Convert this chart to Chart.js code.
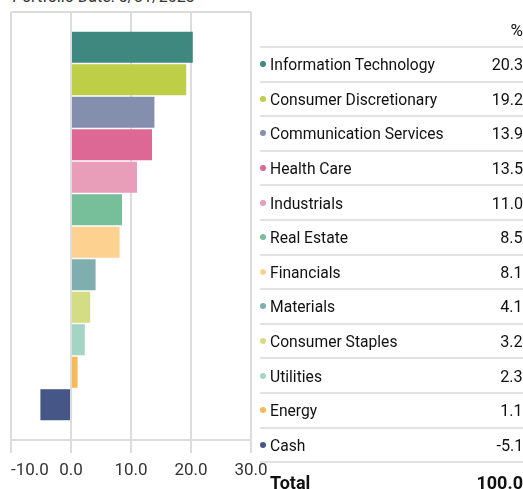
<!DOCTYPE html>
<html>
<head>
<meta charset="utf-8">
<script src="https://cdn.jsdelivr.net/npm/chart.js@4.4.0/dist/chart.umd.min.js"></script>
<style>
  html, body { margin: 0; padding: 0; background: #fff; }
  body { width: 523px; height: 489px; position: relative; overflow: hidden; font-family: Roboto, "Liberation Sans", sans-serif; color: #111; }
  #title { position: absolute; left: 12px; top: -11px; font-size: 16px; line-height: 16px; color: #333; white-space: nowrap; }
  #wrap { position: absolute; left: 0; top: 0; width: 523px; height: 489px; }
  #legend { position: absolute; left: 260px; top: 0; width: 263px; font-size: 17px; }
  .hdr { height: 46px; border-bottom: 2px solid #e2e2e2; box-sizing: content-box; display: flex; align-items: flex-end; justify-content: flex-end; }
  .hdr span { padding-bottom: 6px; }
  .row { height: 32.6px; border-bottom: 2px solid #e2e2e2; display: flex; align-items: center; }
  .row .dot { width: 6px; height: 6px; border-radius: 50%; margin: 0 4px 0 0; flex: none; }
  .row .name { flex: 1; white-space: nowrap; display: inline-block; transform: scaleX(0.92); transform-origin: left center; }
  .row .val { text-align: right; display: inline-block; transform: scaleX(0.95); transform-origin: right center; }
  .total { height: 38px; display: flex; align-items: center; font-weight: bold; font-size: 18px; }
  .total .name { flex: 1; padding-left: 10px; }
</style>
</head>
<body>
<div id="title">Portfolio Date: 5/31/2023</div>
<div id="wrap"><canvas id="c" width="523" height="489"></canvas></div>
<div id="legend"></div>
<script>
const categories = ["Information Technology", "Consumer Discretionary", "Communication Services", "Health Care", "Industrials", "Real Estate", "Financials", "Materials", "Consumer Staples", "Utilities", "Energy", "Cash"];
const values = [20.3, 19.2, 13.9, 13.5, 11.0, 8.5, 8.1, 4.1, 3.2, 2.3, 1.1, -5.1];
const colors = ["#3f8880", "#bece47", "#848fae", "#dd6895", "#e89db9", "#76bf9a", "#fdd18f", "#7eafae", "#d4dd84", "#a4d4c3", "#fbb857", "#465787"];
const xTicks = [-10, 0, 10, 20, 30];
const totalValue = 100.0;

// legend table
const lg = document.getElementById('legend');
let html = '<div class="hdr"><span>%</span></div>';
categories.forEach((c, i) => {
  html += '<div class="row"><span class="dot" style="background:' + colors[i] + '"></span><span class="name">' + c + '</span><span class="val">' + values[i].toFixed(1) + '</span></div>';
});
html += '<div class="total"><span class="name">Total</span><span class="val">' + totalValue.toFixed(1) + '</span></div>';
lg.innerHTML = html;

const points = values.map((v, i) => ({ x: v, y: i }));
const pad = 0.585;

const alignFirst = {
  id: 'alignFirst',
  beforeDraw(chart) {
    const s = chart.scales.x;
    if (!s || !s.getLabelItems) return;
    const items = s.getLabelItems(chart.chartArea);
    if (items && items.length) {
      const o = items[0].options || items[0];
      o.textAlign = 'left';
    }
  }
};

new Chart(document.getElementById('c'), {
  type: 'bar',
  data: {
    datasets: [{
      data: points,
      backgroundColor: colors,
      borderWidth: 0,
      categoryPercentage: 1,
      barPercentage: 0.955
    }]
  },
  options: {
    indexAxis: 'y',
    responsive: false,
    animation: false,
    layout: { padding: { left: 11, right: 272, top: 12, bottom: 0 } },
    plugins: { legend: { display: false }, tooltip: { enabled: false } },
    scales: {
      x: {
        type: 'linear',
        min: xTicks[0],
        max: xTicks[xTicks.length - 1],
        afterBuildTicks: s => { s.ticks = xTicks.map(v => ({ value: v })); },
        afterFit: s => { s.paddingLeft = 0; s.paddingRight = 0; s.paddingTop = 0; s.paddingBottom = 0; s.height = 49; },
        grid: { color: '#dcdcdc', lineWidth: 2, tickLength: 13, drawTicks: true },
        border: { display: false },
        ticks: {
          color: '#333',
          padding: 8,
          font: { family: 'Roboto', size: 17 },
          maxRotation: 0,
          callback: v => Number(v).toFixed(1)
        }
      },
      y: {
        type: 'linear',
        reverse: true,
        offset: false,
        min: -0.5 - pad,
        max: categories.length - 0.5 + pad,
        afterBuildTicks: s => { s.ticks = [{ value: s.min }, { value: s.max }]; },
        grid: { color: '#dcdcdc', lineWidth: 2, drawTicks: false, offset: false },
        border: { display: false },
        ticks: { display: false }
      }
    }
  },
  plugins: [alignFirst]
});
</script>
</body>
</html>
